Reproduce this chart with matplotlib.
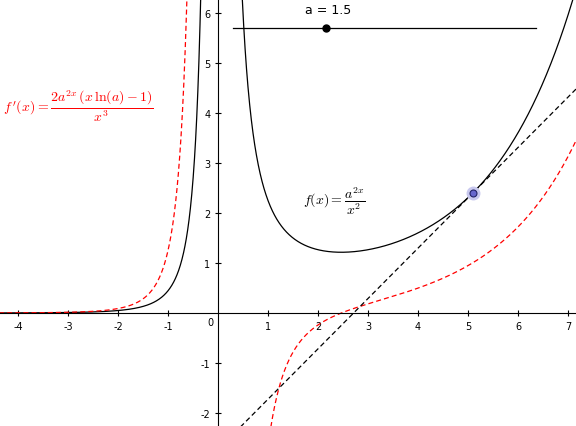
import numpy as np
import matplotlib.pyplot as plt

# parameters
a = 1.5
x_tangent = 5.1
slider_x = [0.3, 6.35]
slider_y = 5.7
slider_knob = 2.16
xticks = [-4, -3, -2, -1, 1, 2, 3, 4, 5, 6, 7]
yticks = [-2, -1, 1, 2, 3, 4, 5, 6]


def f(x):
    return a ** (2 * x) / x ** 2


def fp(x):
    return 2 * a ** (2 * x) * (x * np.log(a) - 1) / x ** 3


fig = plt.figure(figsize=(5.76, 4.27), dpi=100)
ax = fig.add_axes([0, 0, 1, 1])
ax.set_xlim(-4.36, 7.16)
ax.set_ylim(-2.26, 6.28)

xl = np.linspace(-4.4, -0.02, 800)
xr = np.linspace(0.02, 7.2, 1500)
for xs in (xl, xr):
    ax.plot(xs, f(xs), color='black', lw=0.9)
    ax.plot(xs, fp(xs), color='red', lw=0.9, ls=(0, (4, 2.5)))

# tangent line at x_tangent
y0 = f(x_tangent)
m = fp(x_tangent)
xt = np.array([-4.4, 7.2])
ax.plot(xt, y0 + m * (xt - x_tangent), color='black', lw=0.9, ls=(0, (4, 2.5)))
ax.plot([x_tangent], [y0], 'o', ms=9, color='#c8c8ee', zorder=4)
ax.plot([x_tangent], [y0], 'o', ms=5, mfc='#6666cc', mec='#222266', mew=0.8, zorder=5)

# slider
ax.plot(slider_x, [slider_y, slider_y], color='black', lw=0.9)
ax.plot([slider_knob], [slider_y], 'o', ms=5, color='black')
ax.text(2.2, 5.95, 'a = 1.5', fontsize=9, ha='center', va='bottom')

ax.text(-4.3, 4.15, r"$f\,'(x) = \dfrac{2a^{2x}\,(x\,\ln(a) - 1)}{x^3}$",
        color='red', fontsize=10, va='center', math_fontfamily='cm')
ax.text(1.7, 2.25, r"$f(x) = \dfrac{a^{2x}}{x^2}$", fontsize=10,
        va='center', math_fontfamily='cm')

for s in ('top', 'right'):
    ax.spines[s].set_visible(False)
ax.spines['left'].set_position(('data', 0))
ax.spines['bottom'].set_position(('data', 0))
ax.set_xticks(xticks)
ax.set_yticks(yticks)
ax.set_xticklabels([str(t) for t in xticks])
ax.set_yticklabels([str(t) for t in yticks])
ax.tick_params(direction='inout', length=4, labelsize=7, width=0.8)
ax.text(-0.1, -0.08, '0', fontsize=7, ha='right', va='top')

fig.savefig('out.png', dpi=100)
